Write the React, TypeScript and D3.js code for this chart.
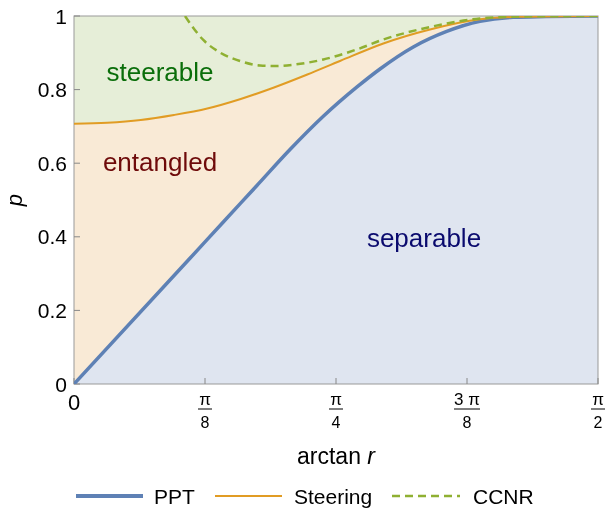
import React from "react";
import * as d3 from "d3";

// arctan r (radians) and p
const pptX = [0, 0.3477, 0.4476, 0.5477, 0.6475, 0.7473, 0.8475, 0.9173, 1.0171, 1.1172, 1.2171, 1.316, 1.415, 1.5708];
const pptP = [0, 0.3416, 0.4402, 0.5386, 0.637, 0.7274, 0.8065, 0.856, 0.9158, 0.958, 0.9856, 0.9965, 0.9986, 1];

const steerX = [0, 0.0998, 0.1999, 0.2997, 0.3996, 0.4998, 0.5996, 0.6995, 0.7974, 0.9273, 1.0672, 1.2171, 1.337, 1.5708];
const steerP = [0.707, 0.71, 0.7174, 0.731, 0.7486, 0.7745, 0.8057, 0.841, 0.8777, 0.9253, 0.9633, 0.991, 0.9978, 1];

const ccnrX = [0.3327, 0.3876, 0.4377, 0.4976, 0.5576, 0.6076, 0.6625, 0.7473, 0.8475, 0.9273, 1.0672, 1.2171, 1.337, 1.5708];
const ccnrP = [1, 0.9348, 0.9008, 0.8777, 0.8655, 0.8641, 0.8682, 0.8818, 0.909, 0.9361, 0.9701, 0.9932, 0.9986, 1];

const xTicks = [0, Math.PI / 8, Math.PI / 4, (3 * Math.PI) / 8, Math.PI / 2];
const xTickNum = ["0", "π", "π", "3 π", "π"];
const xTickDen = ["", "8", "4", "8", "2"];
const yTicks = [0, 0.2, 0.4, 0.6, 0.8, 1];
const yTickLabels = ["0", "0.2", "0.4", "0.6", "0.8", "1"];

const legendNames = ["PPT", "Steering", "CCNR"];

const W = 605;
const H = 510;
const margin = { top: 16, right: 7, bottom: 126, left: 74 };
const font = "Liberation Sans, Arial, sans-serif";

const colors = { ppt: "#5e81b5", steer: "#e19c24", ccnr: "#8fb032" };

export default function App() {
  const x = d3.scaleLinear().domain([0, Math.PI / 2]).range([margin.left, W - margin.right]);
  const y = d3.scaleLinear().domain([0, 1]).range([H - margin.bottom, margin.top]);

  const ppt = pptX.map((v, i) => [v, pptP[i]] as [number, number]);
  const steer = steerX.map((v, i) => [v, steerP[i]] as [number, number]);
  const ccnr = ccnrX.map((v, i) => [v, ccnrP[i]] as [number, number]);

  const line = d3
    .line<[number, number]>()
    .x((d) => x(d[0]))
    .y((d) => y(d[1]))
    .curve(d3.curveMonotoneX);

  // fill between curve and a constant level
  const areaTo = (level: number) =>
    d3
      .area<[number, number]>()
      .x((d) => x(d[0]))
      .y0(y(level))
      .y1((d) => y(d[1]))
      .curve(d3.curveMonotoneX);

  const x0 = x(0);
  const x1 = x(Math.PI / 2);
  const yb = y(0);
  const yt = y(1);
  const legendY = 496;

  return (
    <div style={{ position: "fixed", left: 0, top: 0 }}>
      <svg width={W} height={H} style={{ display: "block", fontFamily: font }}>
        <defs>
          <clipPath id="plot">
            <rect x={x0} y={yt} width={x1 - x0} height={yb - yt} />
          </clipPath>
        </defs>

        <g clipPath="url(#plot)">
          <path d={areaTo(1)(steer) || ""} fill="#e6eed8" />
          <path d={areaTo(0)(steer) || ""} fill="#f9ead6" />
          <path d={areaTo(0)(ppt) || ""} fill="#dfe5f0" />
        </g>

        {/* frame */}
        <rect x={x0} y={yt} width={x1 - x0} height={yb - yt} fill="none" stroke="#999" strokeWidth={1} />

        {/* ticks */}
        {yTicks.map((t, i) => (
          <g key={"y" + i}>
            <line x1={x0} x2={x0 + 6} y1={y(t)} y2={y(t)} stroke="#888" />
            <text x={x0 - 7} y={y(t)} dy="0.36em" textAnchor="end" fontSize={21}>
              {yTickLabels[i]}
            </text>
          </g>
        ))}
        {xTicks.map((t, i) => (
          <g key={"x" + i}>
            <line x1={x(t)} x2={x(t)} y1={yb} y2={yb - 6} stroke="#888" />
            {xTickDen[i] === "" ? (
              <text x={x(t)} y={yb + 26} textAnchor="middle" fontSize={22}>
                {xTickNum[i]}
              </text>
            ) : (
              <g>
                <text x={x(t)} y={yb + 21} textAnchor="middle" fontSize={17}>
                  {xTickNum[i]}
                </text>
                <line
                  x1={x(t) - (xTickNum[i].length > 1 ? 13 : 7)}
                  x2={x(t) + (xTickNum[i].length > 1 ? 13 : 7)}
                  y1={yb + 25}
                  y2={yb + 25}
                  stroke="#000"
                  strokeWidth={1}
                />
                <text x={x(t)} y={yb + 44} textAnchor="middle" fontSize={16}>
                  {xTickDen[i]}
                </text>
              </g>
            )}
          </g>
        ))}

        {/* curves */}
        <g clipPath="url(#plot)">
          <path d={line(ppt) || ""} fill="none" stroke={colors.ppt} strokeWidth={3.5} />
          <path d={line(steer) || ""} fill="none" stroke={colors.steer} strokeWidth={2} />
          <path d={line(ccnr) || ""} fill="none" stroke={colors.ccnr} strokeWidth={2.5} strokeDasharray="8,5" />
        </g>

        {/* region labels */}
        <text x={160} y={81} textAnchor="middle" fontSize={26} fill="#0a6e0a">
          steerable
        </text>
        <text x={160} y={171} textAnchor="middle" fontSize={26} fill="#6e0a0a">
          entangled
        </text>
        <text x={424} y={247} textAnchor="middle" fontSize={26} fill="#0a0a6e">
          separable
        </text>

        {/* axis labels */}
        <text x={(x0 + x1) / 2} y={464} textAnchor="middle" fontSize={23}>
          arctan <tspan fontStyle="italic">r</tspan>
        </text>
        <text
          transform={`translate(22, ${y(0.5)}) rotate(-90)`}
          textAnchor="middle"
          fontSize={22}
          fontStyle="italic"
        >
          p
        </text>

        {/* legend */}
        <line x1={76} x2={143} y1={legendY} y2={legendY} stroke={colors.ppt} strokeWidth={4} />
        <text x={154} y={legendY} dy="0.36em" fontSize={21}>
          {legendNames[0]}
        </text>
        <line x1={215} x2={282} y1={legendY} y2={legendY} stroke={colors.steer} strokeWidth={2} />
        <text x={294} y={legendY} dy="0.36em" fontSize={21}>
          {legendNames[1]}
        </text>
        <line x1={392} x2={460} y1={legendY} y2={legendY} stroke={colors.ccnr} strokeWidth={2.5} strokeDasharray="8,5" />
        <text x={473} y={legendY} dy="0.36em" fontSize={21}>
          {legendNames[2]}
        </text>
      </svg>
    </div>
  );
}
